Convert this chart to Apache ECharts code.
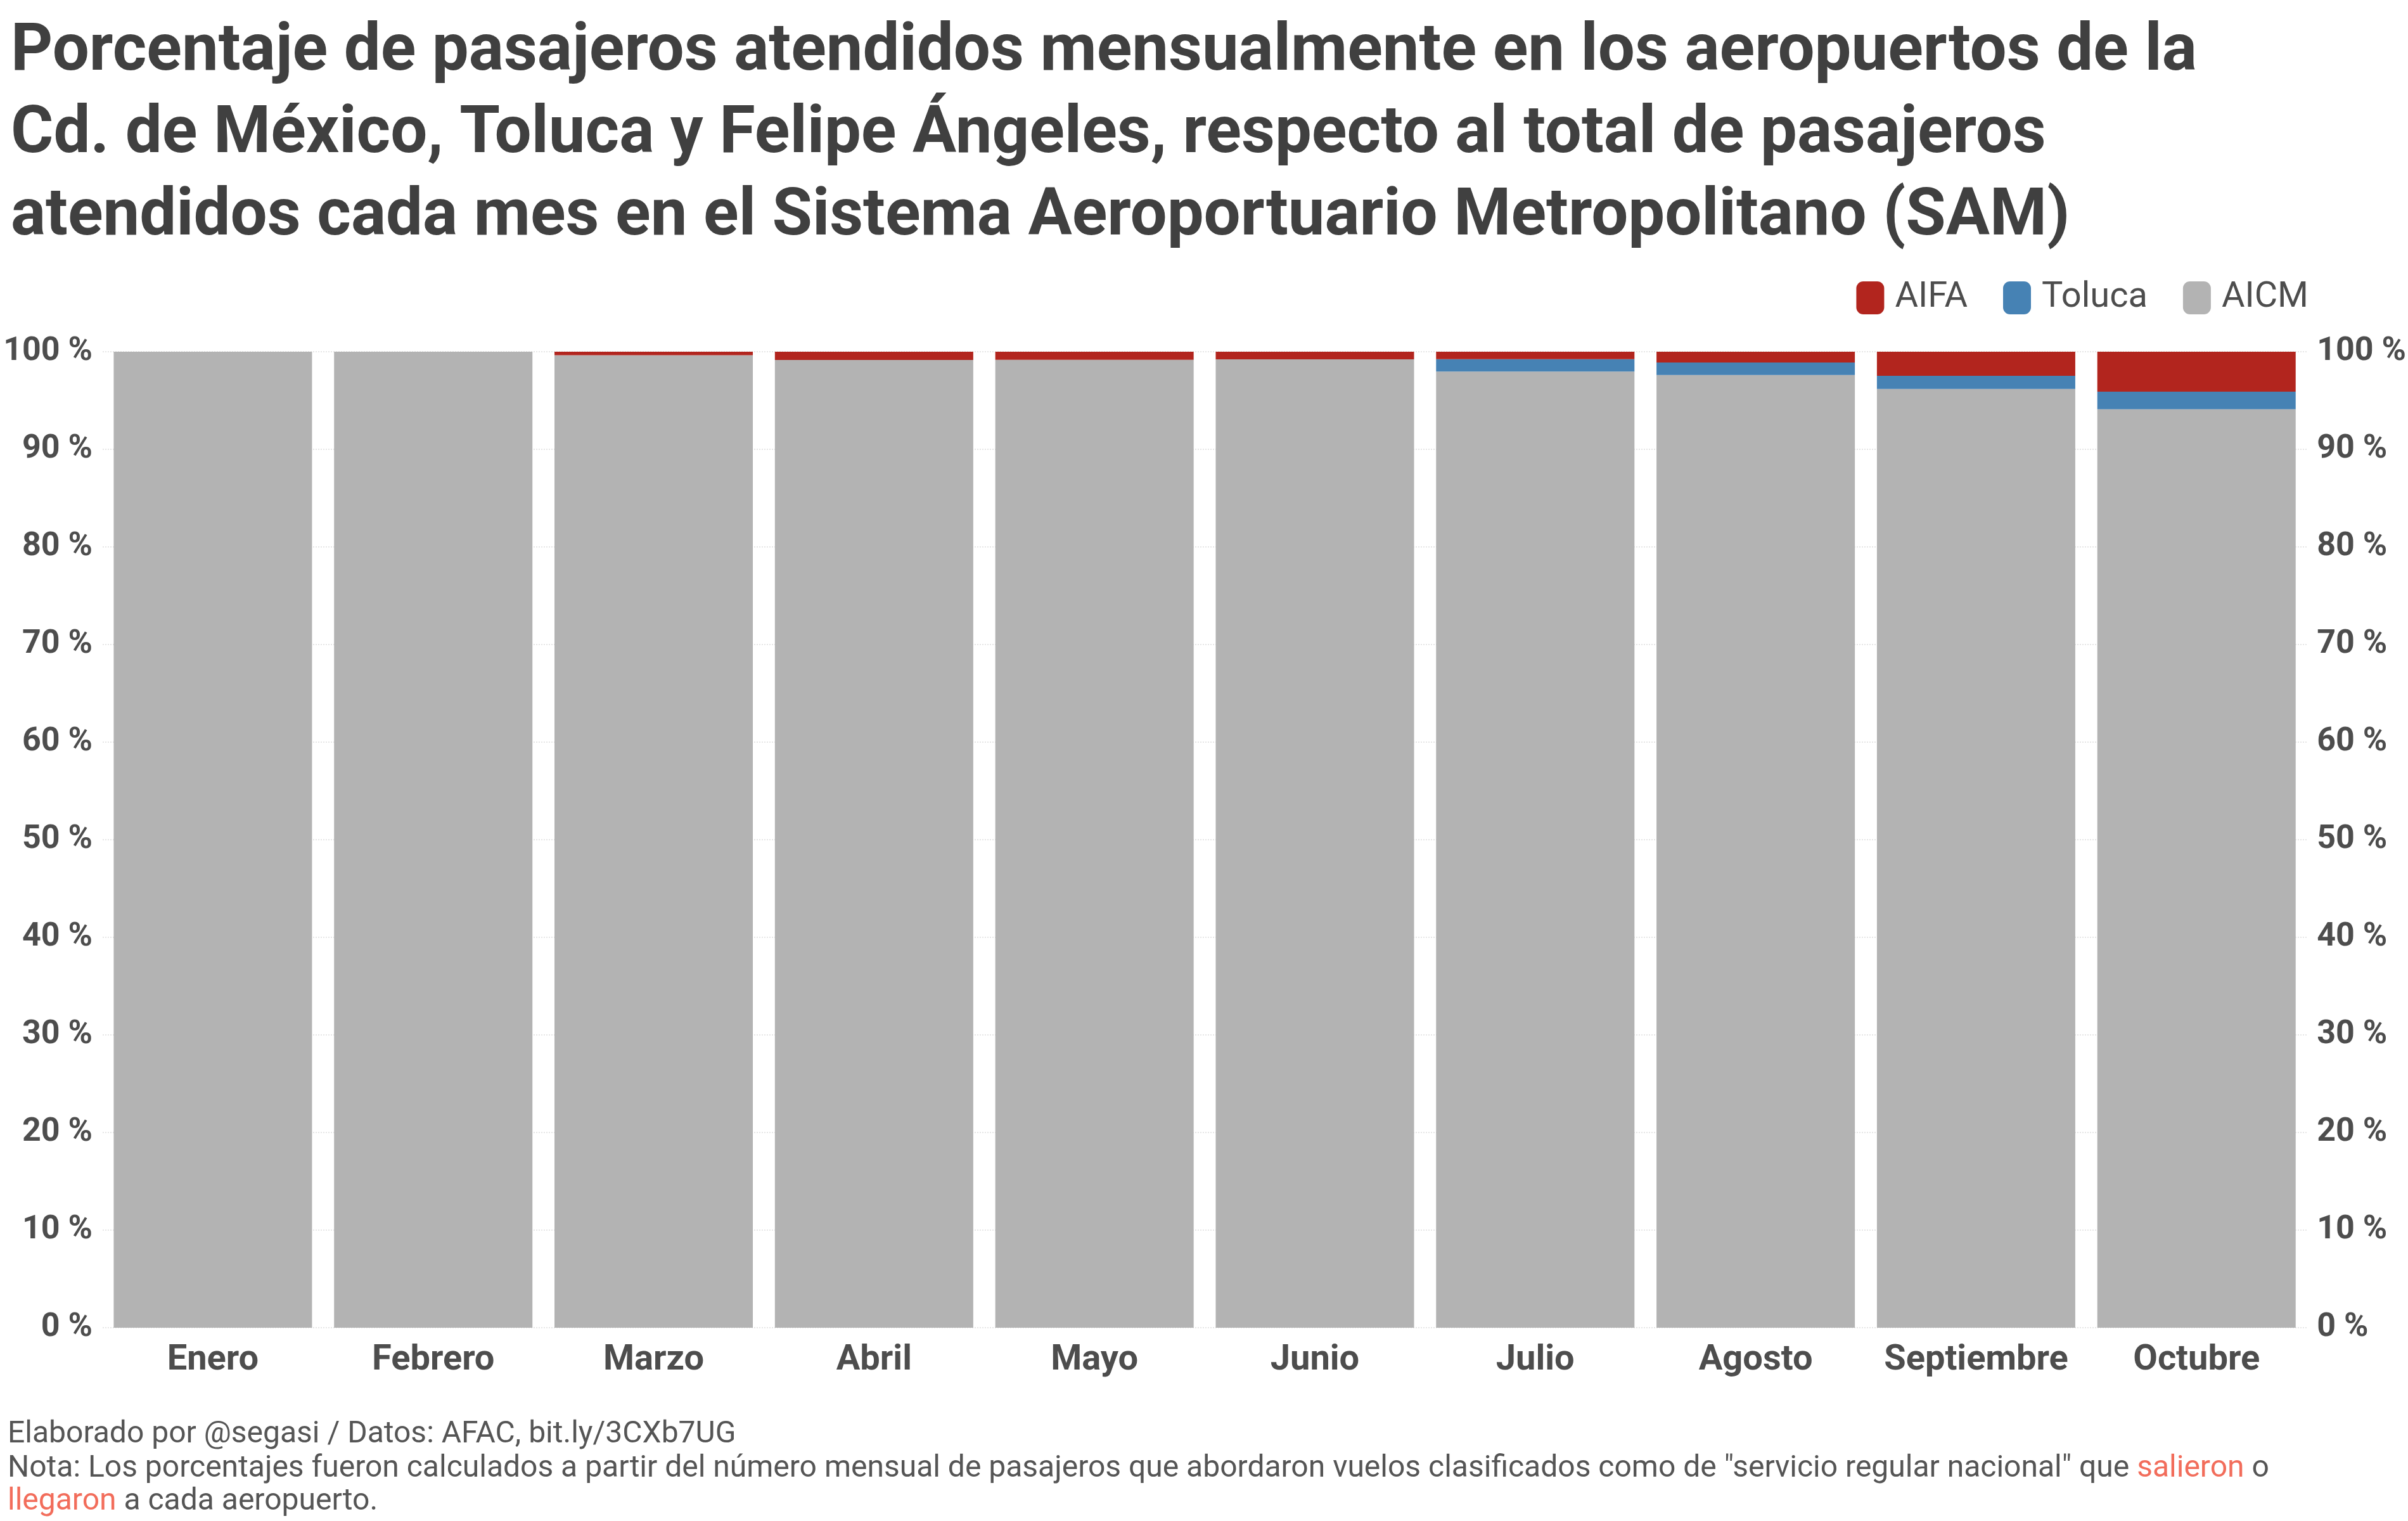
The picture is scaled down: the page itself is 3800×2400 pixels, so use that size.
<!DOCTYPE html>
<html lang="es">
<head>
<meta charset="UTF-8">
<title>SAM pasajeros</title>
<script src="https://cdn.jsdelivr.net/npm/echarts@6/dist/echarts.min.js"></script>
<style>
  html, body { margin: 0; padding: 0; background: #fff; }
  #main { width: 3800px; height: 2400px; }
</style>
</head>
<body>
<div id="main"></div>
<script>
    var meses = ['Enero', 'Febrero', 'Marzo', 'Abril', 'Mayo', 'Junio', 'Julio', 'Agosto', 'Septiembre', 'Octubre'];
    var aifa = [0, 0, 0.35, 0.85, 0.83, 0.78, 0.76, 1.1, 2.47, 4.09];
    var toluca = [0, 0, 0, 0, 0, 0, 1.27, 1.28, 1.34, 1.8];
    // AICM es el resto hasta 100 %
    var aicm = [];
    for (var i = 0; i < meses.length; i++) {
        aicm.push(+(100 - aifa[i] - toluca[i]).toFixed(2));
    }

    var chart = echarts.init(document.getElementById('main'));
    var axisLbl = { fontFamily: 'Roboto', fontWeight: 'bold', fontSize: 52, color: '#4d4d4d', formatter: '{value} %' };
    var yBase = {
        type: 'value', min: 0, max: 100, interval: 10,
        axisLine: { show: false }, axisTick: { show: false },
        splitLine: { lineStyle: { color: '#e6e6e6', type: 'dotted', width: 2 } }
    };
    var option = {
        animation: false,
        title: {
            text: 'Porcentaje de pasajeros atendidos mensualmente en los aeropuertos de la\nCd. de México, Toluca y Felipe Ángeles, respecto al total de pasajeros\natendidos cada mes en el Sistema Aeroportuario Metropolitano (SAM)',
            left: 12, top: 14,
            textStyle: { fontFamily: 'Roboto', fontWeight: 'bold', fontSize: 103, lineHeight: 130, color: '#404040' }
        },
        legend: {
            right: 152, top: 437,
            itemWidth: 44, itemHeight: 52, itemGap: 56,
            textStyle: { fontFamily: 'Roboto', fontSize: 56, color: '#4d4d4d', padding: [0, 0, 0, 12] },
            data: ['AIFA', 'Toluca', 'AICM']
        },
        graphic: [
            { type: 'text', left: 12, top: 2240, style: { text: 'Elaborado por @segasi / Datos: AFAC, bit.ly/3CXb7UG', font: '48px Roboto', fill: '#555' } },
            { type: 'text', left: 12, top: 2292, style: {
                text: 'Nota: Los porcentajes fueron calculados a partir del número mensual de pasajeros que abordaron vuelos clasificados como de "servicio regular nacional" que {r|salieron} o\n{r|llegaron} {n|a cada aeropuerto.}',
                font: '48px Roboto', fill: '#555', lineHeight: 52,
                rich: { r: { fill: '#f26d5b', font: '48px Roboto' }, n: { fill: '#555', font: '48px Roboto' } } } }
        ],
        grid: { left: 162, right: 152, top: 555, bottom: 305 },
        xAxis: {
            type: 'category', data: meses,
            axisLine: { show: false }, axisTick: { show: false },
            axisLabel: { interval: 0, fontFamily: 'Roboto', fontWeight: 'bold', fontSize: 56, color: '#4d4d4d', margin: 24 }
        },
        yAxis: [
            Object.assign({}, yBase, { position: 'left', axisLabel: Object.assign({}, axisLbl, { margin: 16 }) }),
            Object.assign({}, yBase, { position: 'right', axisLabel: Object.assign({}, axisLbl, { margin: 16 }) })
        ],
        series: [
            { name: 'AICM', type: 'bar', stack: 'a', data: aicm, barCategoryGap: '10%', itemStyle: { color: '#b3b3b3' } },
            { name: 'Toluca', type: 'bar', stack: 'a', data: toluca, itemStyle: { color: '#4682b4' } },
            { name: 'AIFA', type: 'bar', stack: 'a', data: aifa, itemStyle: { color: '#b2251e' } }
        ]
    };
    chart.setOption(option);
</script>
</body>
</html>
